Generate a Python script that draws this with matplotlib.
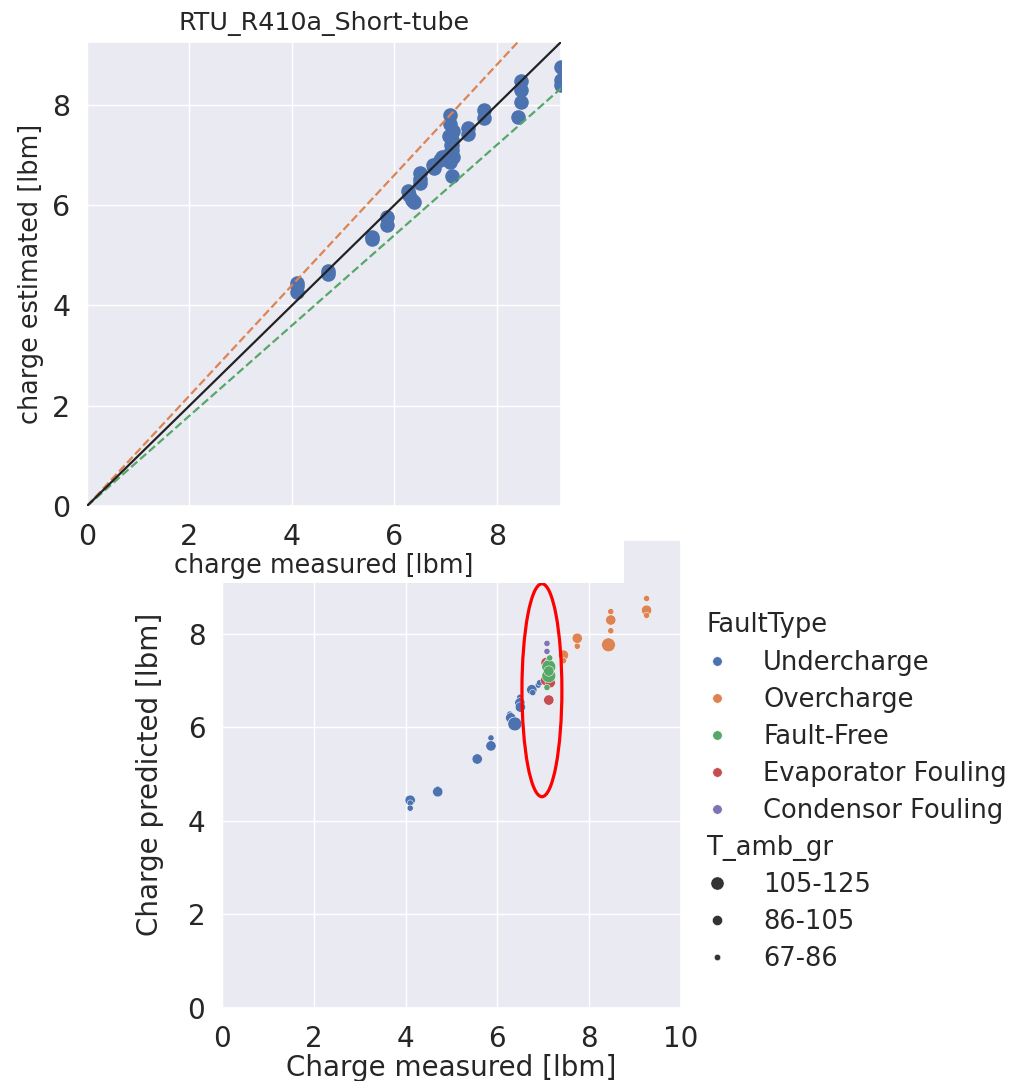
import matplotlib
matplotlib.use("Agg")
import matplotlib.pyplot as plt
import seaborn as sns
import pandas as pd
from matplotlib.patches import Ellipse, Rectangle
from matplotlib.offsetbox import HPacker, TextArea, DrawingArea

# ---------------- data ----------------
measured = [4.10, 4.10, 4.10, 4.70, 4.70, 5.56, 5.56, 5.86, 5.86,
            6.27, 6.29, 6.35, 6.38, 6.49, 6.49, 6.50, 6.75, 6.77, 6.89, 6.92,
            7.12, 7.06, 7.05, 7.15, 7.10,
            7.08, 7.08, 7.10,
            7.12, 7.12, 7.14, 7.08, 7.12,
            7.44, 7.44, 7.74, 7.74, 8.42, 8.47, 8.47, 8.47, 9.25, 9.25, 9.25]
predicted = [4.44, 4.38, 4.27, 4.68, 4.62, 5.37, 5.32, 5.77, 5.60,
             6.28, 6.20, 6.10, 6.07, 6.64, 6.52, 6.43, 6.80, 6.74, 6.90, 6.95,
             6.58, 7.38, 7.00, 6.95, 7.20,
             7.79, 7.62, 7.40,
             7.29, 7.10, 7.48, 6.85, 7.20,
             7.54, 7.42, 7.90, 7.73, 7.76, 8.47, 8.29, 8.06, 8.75, 8.50, 8.39]
fault = (["Undercharge"] * 20 + ["Evaporator Fouling"] * 5 + ["Condensor Fouling"] * 3
         + ["Fault-Free"] * 5 + ["Overcharge"] * 11)
t_amb = ["86-105", "67-86", "67-86", "67-86", "86-105", "67-86", "86-105", "67-86", "86-105",
         "67-86", "86-105", "86-105", "105-125", "67-86", "86-105", "86-105", "86-105", "67-86", "67-86", "67-86",
         "86-105", "86-105", "86-105", "86-105", "67-86",
         "67-86", "67-86", "67-86",
         "105-125", "105-125", "67-86", "67-86", "86-105",
         "86-105", "67-86", "86-105", "67-86", "105-125", "67-86", "86-105", "67-86", "67-86", "86-105", "67-86"]

fault_order = ["Undercharge", "Overcharge", "Fault-Free", "Evaporator Fouling", "Condensor Fouling"]
temp_order = ["105-125", "86-105", "67-86"]
band_slopes = [1.1, 0.9]
top_lim = 9.25
bottom_lim = 10
highlight_center = (6.97, 6.79)
highlight_size = (0.87, 4.55)

df = pd.DataFrame({"measured": measured, "predicted": predicted,
                   "FaultType": fault, "T_amb_gr": t_amb})

# ---------------- style ----------------
sns.set_theme(style="darkgrid")
plt.rcParams["font.family"] = ["DejaVu Sans"]
pal = sns.color_palette("deep")

fig = plt.figure(figsize=(10.12, 10.81), dpi=100)

# bottom axes
axb = fig.add_axes([222 / 1012, 1 - 1008 / 1081, 459 / 1012, 468 / 1081])
axb.set_zorder(0)
sns.scatterplot(data=df, x="measured", y="predicted", hue="FaultType", size="T_amb_gr",
                hue_order=fault_order, size_order=temp_order,
                sizes={"105-125": 100, "86-105": 55, "67-86": 20},
                palette=pal[:5], ax=axb)
axb.set_xlim(0, bottom_lim)
axb.set_ylim(0, bottom_lim)
axb.set_xticks([0, 2, 4, 6, 8, 10])
axb.set_yticks([0, 2, 4, 6, 8])
axb.tick_params(labelsize=20, length=0, pad=12)
axb.set_xlabel("Charge measured [lbm]", fontsize=20, labelpad=1)
axb.set_ylabel("Charge predicted [lbm]", fontsize=20, labelpad=17)
axb.add_patch(Ellipse(highlight_center, highlight_size[0], highlight_size[1],
                      fill=False, edgecolor="red", linewidth=2.3, zorder=5))
leg = axb.legend(loc="upper left", bbox_to_anchor=(1.0, 0.90), frameon=False,
                 fontsize=18.5, labelspacing=0.43, handlelength=0.8,
                 handletextpad=1.4, borderaxespad=0.6)
# subtitles: left aligned, no handle; marker sizes
hue_ms = 6.8
size_ms = {"105-125": 9.5, "86-105": 7.3, "67-86": 4.6}
for hp in leg.findobj(HPacker):
    kids = hp.get_children()
    if len(kids) == 2 and isinstance(kids[0], DrawingArea) and isinstance(kids[1], TextArea):
        txt = kids[1].get_children()[0].get_text()
        if txt in ("FaultType", "T_amb_gr"):
            kids[0].set_width(0)
            hp.sep = 0
            for a in kids[0].get_children():
                a.set_visible(False)
        else:
            for a in kids[0].get_children():
                ms = size_ms.get(txt, hue_ms)
                if hasattr(a, "set_markersize"):
                    a.set_markersize(ms)
                elif hasattr(a, "set_sizes"):
                    a.set_sizes([ms ** 2])

# white cover behind top figure
fig.patches.append(Rectangle((0, 1 - 583 / 1081), 624 / 1012, 583 / 1081,
                             transform=fig.transFigure, facecolor="white",
                             edgecolor="none", zorder=1))

# top axes
axt = fig.add_axes([87 / 1012, 1 - 506 / 1081, 474 / 1012, 464 / 1081])
axt.set_zorder(2)
axt.scatter(measured, predicted, s=110, color=pal[0], linewidths=0, zorder=3)
xs = [0, top_lim * 1.2]
axt.plot(xs, [band_slopes[0] * v for v in xs], ls="--", color=pal[1], lw=1.6, zorder=4)
axt.plot(xs, [band_slopes[1] * v for v in xs], ls="--", color=pal[2], lw=1.6, zorder=4)
axt.plot(xs, xs, ls="-", color="#222222", lw=1.6, zorder=4)
axt.set_xlim(0, top_lim)
axt.set_ylim(0, top_lim)
axt.set_xticks([0, 2, 4, 6, 8])
axt.set_yticks([0, 2, 4, 6, 8])
axt.tick_params(labelsize=20.5, length=0, pad=12)
axt.set_xlabel("charge measured [lbm]", fontsize=18.4, labelpad=2)
axt.set_ylabel("charge estimated [lbm]", fontsize=18.4, labelpad=6)
axt.set_title("RTU_R410a_Short-tube", fontsize=18.3, pad=9)

fig.savefig("out.png", dpi=100)
